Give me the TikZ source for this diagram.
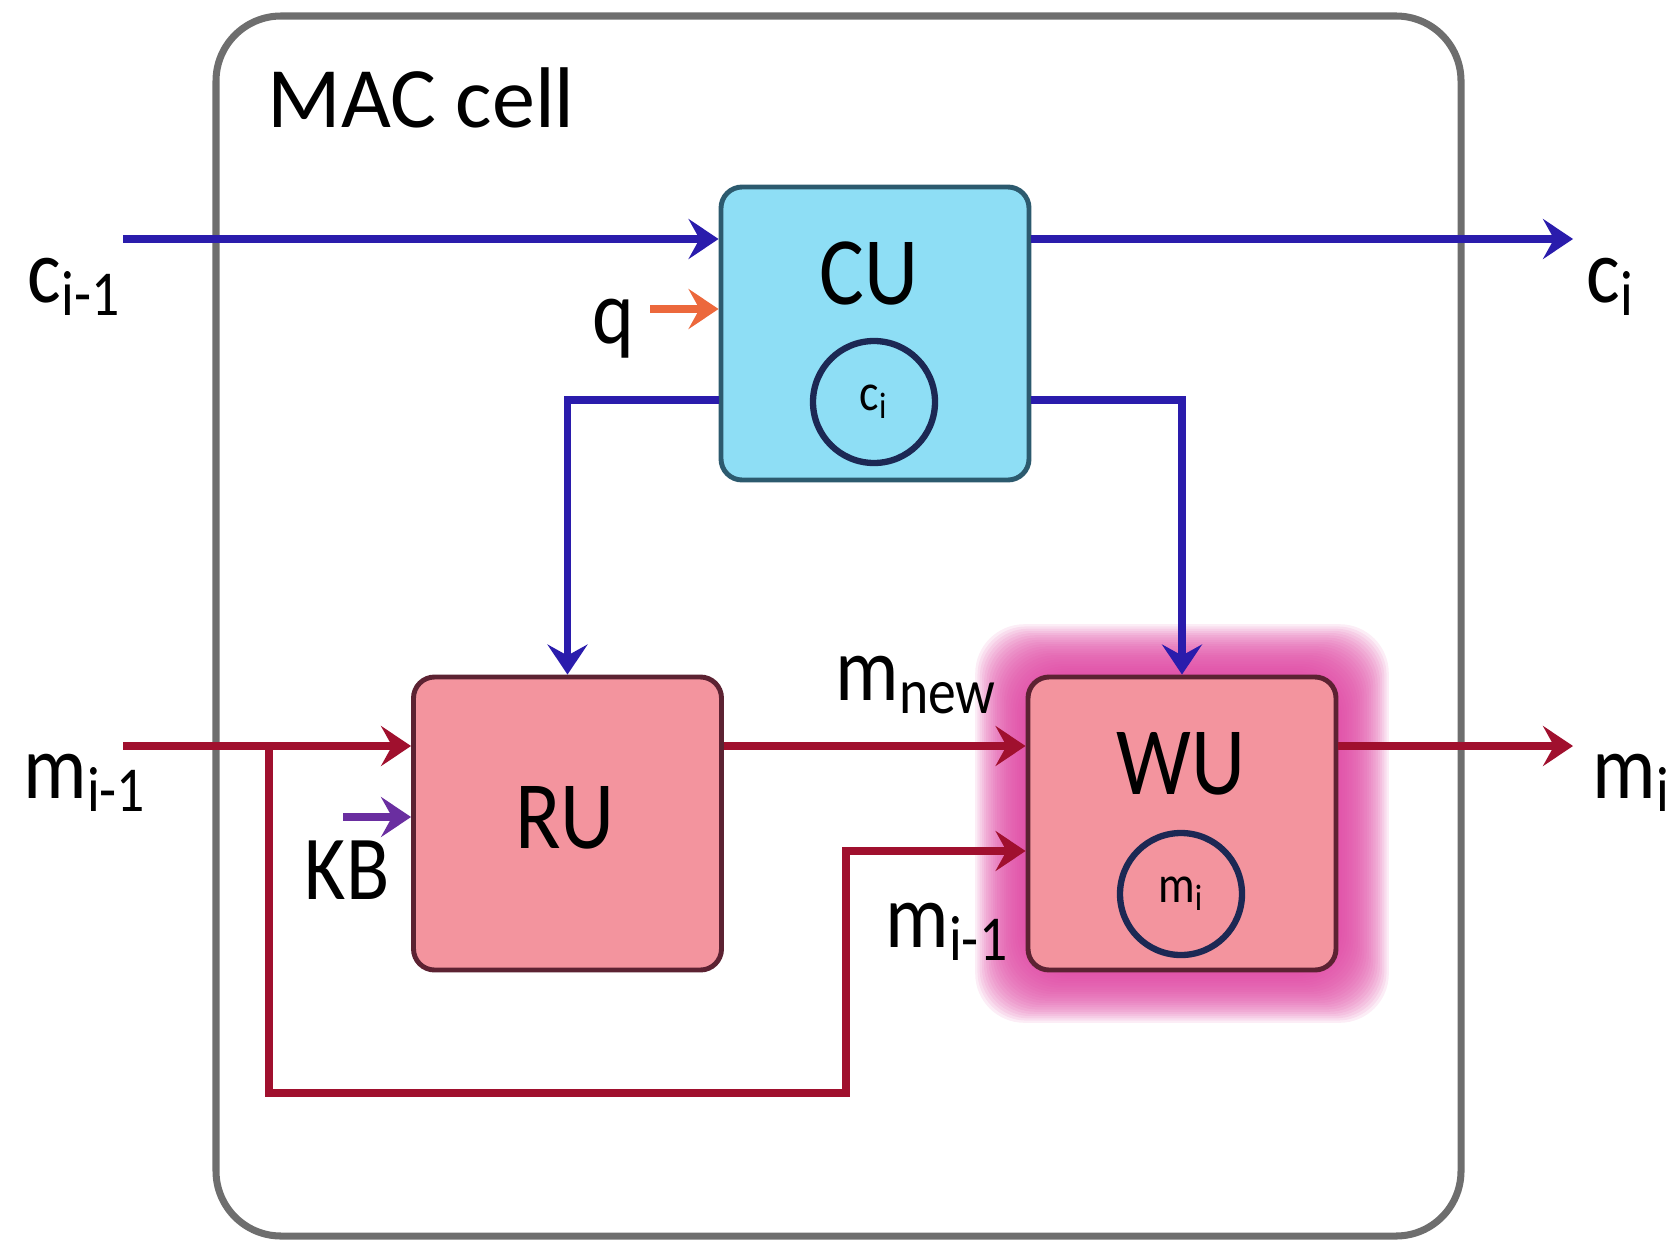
\documentclass[tikz,border=0pt]{standalone}
\usepackage{fontspec}
\setmainfont{Carlito}[FakeStretch=0.87]
\newfontfamily\titlefont{Carlito}
\usetikzlibrary{arrows.meta,positioning,calc}

\definecolor{cflowc}{RGB}{42,28,172}
\definecolor{mflowc}{RGB}{160,16,46}
\definecolor{qflowc}{RGB}{236,104,60}
\definecolor{kbflowc}{RGB}{106,46,160}
\definecolor{cufill}{RGB}{142,222,245}
\definecolor{cuedge}{RGB}{44,90,110}
\definecolor{unitfill}{RGB}{243,148,158}
\definecolor{unitedge}{RGB}{92,34,50}
\definecolor{memedge}{RGB}{28,40,84}
\definecolor{glowc}{RGB}{222,66,160}
\definecolor{cellgray}{RGB}{110,110,110}

\newcommand{\lbl}{\fontsize{26}{30}\selectfont}

\begin{document}
\begin{tikzpicture}[x=1cm,y=1cm,
  every node/.style={inner sep=0pt,font=\lbl},
  unitbox/.style={draw=unitedge,fill=unitfill,line width=1.4pt,rounded corners=6pt,
    minimum width=3.08cm,minimum height=2.93cm},
  unittxt/.style={anchor=base,font=\fontsize{27.5}{30}\selectfont},
  memcirc/.style={circle,draw=memedge,line width=1.8pt,minimum size=1.22cm,
    font=\fontsize{15}{17}\selectfont},
  tip/.style={-{Stealth[length=3mm,width=4mm,inset=1.1mm]}},
  cflow/.style={draw=cflowc,line width=2.2pt},
  mflow/.style={draw=mflowc,line width=2.2pt}]
\useasboundingbox (0,0) rectangle (16.72,12.43);

% cell frame
\draw[cellgray,line width=2pt,rounded corners=0.65cm] (2.16,0.07) rectangle (14.61,12.27);
\node[anchor=base west,font=\titlefont\fontsize{24.5}{30}\selectfont] (title) at (2.67,11.15) {MAC cell};

% units
\node[unitbox,draw=cuedge,fill=cufill] (CU) at (8.75,9.095) {};
\node[unitbox] (RU) at (5.675,4.195) {};
\coordinate (wuc) at (11.82,4.195);
\foreach \g in {1,...,24}
  \fill[glowc,fill opacity=0.095,rounded corners=14pt]
    ($(wuc)+(-1.54-0.022*\g,-1.465-0.022*\g)$) rectangle ($(wuc)+(1.54+0.022*\g,1.465+0.022*\g)$);
\node[unitbox] (WU) at (wuc) {};

\node[unittxt] (cutxt) at (8.69,9.39) {CU};
\node[unittxt] (rutxt) at (5.65,3.95) {RU};
\node[unittxt] (wutxt) at (11.81,4.49) {WU};
\node[memcirc] (cmem) at (8.74,8.41) {c\textsubscript{i}};
\node[memcirc] (mmem) at (11.81,3.49) {m\textsubscript{i}};

% control flow
\coordinate (cin) at (1.23,10.04);
\coordinate (cout) at (15.73,10.04);
\draw[cflow,tip] (cin) -- (cin -| CU.west);
\draw[cflow,tip] (cout -| CU.east) -- (cout);
\draw[cflow,tip] ($(CU.west)+(0,-0.665)$) -| (RU.north);
\draw[cflow,tip] ($(CU.east)+(0,-0.665)$) -| (WU.north);
\coordinate (qin) at (6.50,9.34);
\draw[qflowc,line width=2.2pt,tip] (qin) -- (qin -| CU.west);

% memory flow
\coordinate (min) at (1.23,4.97);
\coordinate (mout) at (15.73,4.97);
\coordinate (tap) at (2.69,4.97);
\coordinate (low) at (8.46,1.50);
\draw[mflow,tip] (min) -- (min -| RU.west);
\draw[mflow,tip] (min -| RU.east) -- (min -| WU.west);
\draw[mflow,tip] (mout -| WU.east) -- (mout);
\draw[mflow,tip] (tap) |- (low) |- ($(WU.west)+(0,-0.275)$);
\coordinate (kbin) at (3.43,4.26);
\draw[kbflowc,line width=2.2pt,tip] (kbin) -- (kbin -| RU.west);

% labels
\node[anchor=base west] (cprev) at (0.27,9.41) {c\textsubscript{i-1}};
\node[anchor=base west] (cnext) at (15.86,9.41) {c\textsubscript{i}};
\node[anchor=base west] (qlbl) at (5.92,9.00) {q};
\node[anchor=base west] (mprev) at (0.23,4.45) {m\textsubscript{i-1}};
\node[anchor=base west] (mnext) at (15.92,4.45) {m\textsubscript{i}};
\node[anchor=base west] (kblbl) at (3.04,3.44) {KB};
\node[anchor=base west] (mnew) at (8.35,5.43) {m\textsubscript{new}};
\node[anchor=base west] (mold) at (8.85,2.96) {m\textsubscript{i-1}};
\end{tikzpicture}
\end{document}
